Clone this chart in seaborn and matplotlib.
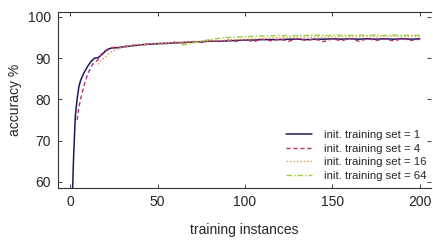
import matplotlib
matplotlib.use("Agg")
import matplotlib.pyplot as plt
import seaborn as sns

# accuracy curves for different sizes of the initial training set
x_tail = [55, 60, 65, 70, 75, 80, 85, 90, 95, 100, 105, 110, 115, 120, 125, 130, 135,
          140, 145, 150, 155, 160, 165, 170, 175, 180, 185, 190, 195, 200]

x1 = [1, 2, 3, 4, 5, 6, 8, 10, 12, 14, 16, 18, 20, 22, 24, 26, 28, 30, 34, 38, 42, 46, 50] + x_tail
y1 = [52, 66, 76, 80, 83, 84.6, 86.5, 88, 89.2, 90, 90.1, 90.8, 91.6, 92.2, 92.5, 92.5, 92.6,
      92.7, 92.9, 93.1, 93.3, 93.4, 93.5,
      93.6, 93.7, 93.8, 93.9, 94.0, 94.1, 94.1, 94.2, 94.3, 94.4, 94.4, 94.5, 94.5, 94.5, 94.6,
      94.6, 94.5, 94.6, 94.6, 94.7, 94.6, 94.7, 94.6, 94.7, 94.6, 94.7, 94.6, 94.7, 94.6, 94.7]

x4 = [4, 5, 6, 8, 10, 12, 14, 16, 18, 20, 22, 24, 26, 28, 30, 34, 38, 42, 46, 50] + x_tail
y4 = [75, 78, 80, 83.5, 86, 88, 89, 89.6, 91, 91.8, 92.3, 92.5, 92.8, 92.5, 92.8, 93, 93.3,
      93.2, 93.5, 93.6,
      93.5, 93.9, 93.7, 94.1, 93.8, 94.3, 94.0, 94.4, 94.1, 94.5, 94.0, 94.6, 94.2, 94.6, 94.1,
      94.7, 94.3, 94.6, 94.0, 94.7, 94.2, 94.8, 94.1, 94.7, 94.3, 94.6, 94.2, 94.7, 94.3, 94.6]

x16 = [16, 18, 20, 22, 24, 26, 28, 30, 34, 38, 42, 46, 50] + x_tail
y16 = [88.5, 89.5, 90.2, 91, 91.6, 92, 92.4, 92.6, 92.9, 93.1, 93.3, 93.5, 93.6,
       93.7, 93.8, 93.9, 94.0, 94.1, 94.2, 94.3, 94.4, 94.5, 94.6, 94.7, 94.8, 94.9, 95.0,
       95.0, 95.1, 95.1, 95.2, 95.1, 95.2, 95.2, 95.3, 95.2, 95.3, 95.2, 95.3, 95.3, 95.2,
       95.3, 95.3]

x64 = [64, 68, 72, 76, 80, 85, 90, 95] + x_tail[9:]
y64 = [93.2, 93.5, 93.8, 94.2, 94.5, 94.8, 95.0, 95.1,
       95.2, 95.3, 95.4, 95.4, 95.5, 95.4, 95.5, 95.5, 95.6, 95.5, 95.5, 95.6, 95.5, 95.6,
       95.5, 95.6, 95.5, 95.6, 95.5, 95.6, 95.5]

labels = ['init. training set = 1', 'init. training set = 4',
          'init. training set = 16', 'init. training set = 64']

sns.set_style('ticks')
plt.rcParams['font.family'] = ['Liberation Sans', 'DejaVu Sans']

fig = plt.figure(figsize=(4.33, 2.4), dpi=100)
ax = fig.add_axes([0.134, 0.217, 0.861, 0.733])

series = [(x1, y1, '#1c1a5a', '-', 1.1),
          (x4, y4, '#b8336e', (0, (3, 2)), 1.0),
          (x16, y16, '#e59a4e', (0, (1, 1.5)), 1.0),
          (x64, y64, '#9fcf3a', (0, (4, 1.5, 1, 1.5)), 1.0)]
for (xs, ys, c, ls, lw), lab in zip(series, labels):
    sns.lineplot(x=xs, y=ys, ax=ax, color=c, linestyle=ls, linewidth=lw, label=lab)

ax.set_xlim(-6.9, 206.3)
ax.set_ylim(58.5, 101.2)
ax.set_xticks([0, 50, 100, 150, 200])
ax.set_yticks([60, 70, 80, 90, 100])
ax.tick_params(direction='in', top=True, right=True, labelsize=10, length=3, width=0.6, pad=5)
for s in ax.spines.values():
    s.set_linewidth(0.8)
    s.set_color('#333333')
ax.spines['right'].set_visible(False)
ax.set_xlabel('training instances', fontsize=10, labelpad=10)
ax.set_ylabel('accuracy %', fontsize=10, labelpad=4)

ax.legend(loc='lower right', frameon=False, fontsize=8.2, handlelength=2.3,
          handletextpad=1.0, labelspacing=0.3, borderaxespad=0.0,
          bbox_to_anchor=(1.0, 0.015))

fig.savefig('out.png', dpi=100)
